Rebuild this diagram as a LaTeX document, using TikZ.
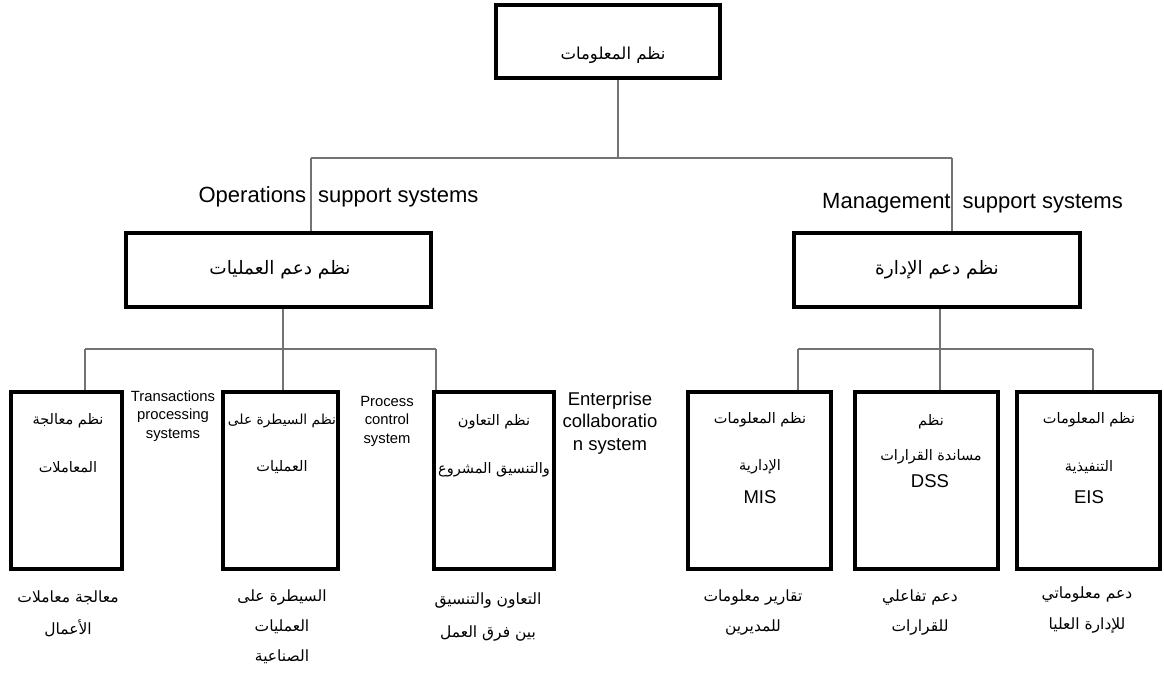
\documentclass[tikz,border=0pt]{standalone}
\usepackage{fontspec}
\setmainfont{Liberation Sans}
\newfontfamily\arabicfont[Script=Arabic]{DejaVu Sans}
\TeXXeTstate=1
\newcommand\AR[1]{{\arabicfont\beginR #1\endR}}
\begin{document}
\begin{tikzpicture}[x=1pt,y=-1pt,
  box/.style={draw=black,line width=4pt,inner sep=0pt},
  conn/.style={draw=black!55,line width=1.4pt},
  ar/.style={font=\fontsize{14.5}{16}\selectfont,inner sep=0pt},
  captxt/.style={font=\fontsize{15.5}{17}\selectfont,inner sep=0pt},
  armid/.style={font=\fontsize{18.5}{20}\selectfont,inner sep=0pt},
  artop/.style={font=\fontsize{16.5}{18}\selectfont,inner sep=0pt},
  en/.style={font=\fontsize{22}{25}\selectfont,inner sep=0pt},
  ensm/.style={font=\fontsize{14.8}{18.5}\selectfont,inner sep=0pt,align=center},
  enmd/.style={font=\fontsize{18.5}{22.5}\selectfont,inner sep=0pt,align=center},
  abbr/.style={font=\fontsize{18.5}{20}\selectfont,inner sep=0pt}]
\useasboundingbox (0,0) rectangle (1164,672);

% boxes
\node[box,minimum width=224,minimum height=73] (top) at (608,41.5) {};
\node[box,minimum width=305,minimum height=74] (ops) at (278.5,270) {};
\node[box,minimum width=286,minimum height=74] (mgmt) at (937,270) {};
\node[box,minimum width=111,minimum height=177] (b1) at (66.5,480.5) {};
\node[box,minimum width=115,minimum height=177] (b2) at (280.5,480.5) {};
\node[box,minimum width=120,minimum height=177] (b3) at (494,480.5) {};
\node[box,minimum width=143,minimum height=177] (b4) at (759.5,480.5) {};
\node[box,minimum width=143,minimum height=177] (b5) at (926.5,480.5) {};
\node[box,minimum width=143,minimum height=177] (b6) at (1088.5,480.5) {};

% junction coordinates
\coordinate (tj) at (618,158);
\coordinate (jL) at (311,158);
\coordinate (jR) at (952,158);
\coordinate (oj) at (283,349);
\coordinate (oL) at (85,349);
\coordinate (oR) at (436,349);
\coordinate (mj) at (940,349);
\coordinate (mL) at (798,349);
\coordinate (mR) at (1093,349);

% connectors
\draw[conn] (top.south -| tj) -- (tj);
\draw[conn] (jL) -- (jR);
\draw[conn] (jL) -- (ops.north -| jL);
\draw[conn] (jR) -- (mgmt.north -| jR);
\draw[conn] (ops.south -| oj) -- (oj);
\draw[conn] (oL) -- (oR);
\draw[conn] (oL) -- (b1.north -| oL);
\draw[conn] (oj) -- (b2.north -| oj);
\draw[conn] (oR) -- (b3.north -| oR);
\draw[conn] (mgmt.south -| mj) -- (mj);
\draw[conn] (mL) -- (mR);
\draw[conn] (mL) -- (b4.north -| mL);
\draw[conn] (mj) -- (b5.north -| mj);
\draw[conn] (mR) -- (b6.north -| mR);

% box texts
\node[artop] (ttop) at (613,55) {\AR{نظم المعلومات}};
\node[armid] (tops) at (280,270) {\AR{نظم دعم العمليات}};
\node[armid] (tmgmt) at (937,270) {\AR{نظم دعم الإدارة}};

\node[en] (lops) at (338.5,197) {Operations\hspace{12pt}support systems};
\node[en] (lmgmt) at (972.5,203) {Management\hspace{12pt}support systems};

\node[ar] (t1a) at (68,421) {\AR{نظم معالجة}};
\node[ar] (t1b) at (68,467) {\AR{المعاملات}};
\node[ar,font=\fontsize{13.8}{16}\selectfont] (t2a) at (282,421) {\AR{نظم السيطرة على}};
\node[ar] (t2b) at (282,467) {\AR{العمليات}};
\node[ar] (t3a) at (494,422) {\AR{نظم التعاون}};
\node[ar] (t3b) at (494,470) {\AR{والتنسيق المشروع}};
\node[ar] (t4a) at (760,420) {\AR{نظم المعلومات}};
\node[ar] (t4b) at (760,467) {\AR{الإدارية}};
\node[abbr] (t4c) at (760,497) {MIS};
\node[ar] (t5a) at (931,422) {\AR{نظم}};
\node[ar] (t5b) at (931,457) {\AR{مساندة القرارات}};
\node[abbr] (t5c) at (930,481) {DSS};
\node[ar] (t6a) at (1089,420) {\AR{نظم المعلومات}};
\node[ar] (t6b) at (1089,467) {\AR{التنفيذية}};
\node[abbr] (t6c) at (1089,497) {EIS};

% english side labels
\node[ensm] (l1) at (173,416) {Transactions\\processing\\systems};
\node[ensm] (l2) at (387,421) {Process\\control\\system};
\node[enmd] (l3) at (610,423) {Enterprise\\collaboratio\\n system};

% captions below boxes
\node[captxt] (c1a) at (68,598) {\AR{معالجة معاملات}};
\node[captxt] (c1b) at (68,628) {\AR{الأعمال}};
\node[captxt] (c2a) at (282,597) {\AR{السيطرة على}};
\node[captxt] (c2b) at (282,627) {\AR{العمليات}};
\node[captxt] (c2c) at (282,657) {\AR{الصناعية}};
\node[captxt] (c3a) at (488,600) {\AR{التعاون والتنسيق}};
\node[captxt] (c3b) at (488,633) {\AR{بين فرق العمل}};
\node[captxt] (c4a) at (753,597) {\AR{تقارير معلومات}};
\node[captxt] (c4b) at (753,627) {\AR{للمديرين}};
\node[captxt] (c5a) at (920,597) {\AR{دعم تفاعلي}};
\node[captxt] (c5b) at (920,627) {\AR{للقرارات}};
\node[captxt] (c6a) at (1087,594) {\AR{دعم معلوماتي}};
\node[captxt] (c6b) at (1087,625) {\AR{للإدارة العليا}};
\end{tikzpicture}
\end{document}
